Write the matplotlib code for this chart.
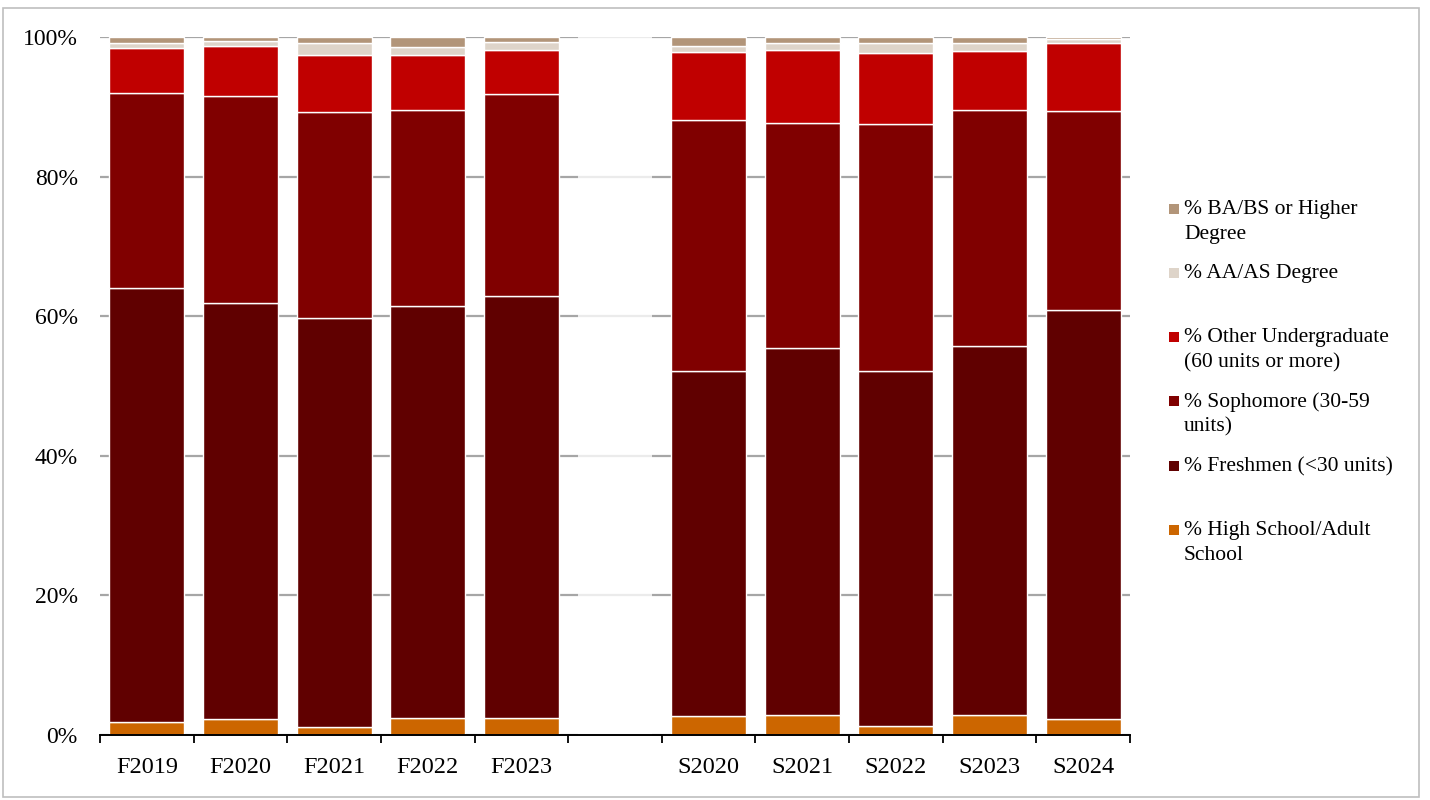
import numpy as np
import matplotlib

matplotlib.use("Agg")
import matplotlib.pyplot as plt
from matplotlib.patches import Rectangle

plt.rcParams["font.family"] = ["Liberation Serif", "DejaVu Serif"]

terms = ["F2019", "F2020", "F2021", "F2022", "F2023",
         "S2020", "S2021", "S2022", "S2023", "S2024"]

# percent of students by standing (bottom -> top)
high_school = [1.9, 2.3, 1.1, 2.4, 2.4, 2.7, 2.9, 1.3, 2.9, 2.3]
freshmen = [62.1, 59.6, 58.6, 59.1, 60.5, 49.4, 52.5, 50.8, 52.8, 58.6]
sophomore = [28.0, 29.6, 29.6, 28.0, 28.9, 36.0, 32.3, 35.4, 33.8, 28.5]
other_ug = [6.4, 7.2, 8.1, 7.9, 6.4, 9.7, 10.4, 10.2, 8.5, 9.8]
aa_degree = [0.8, 0.7, 1.7, 1.2, 1.1, 0.9, 1.0, 1.4, 1.1, 0.5]
ba_degree = [0.8, 0.6, 0.9, 1.4, 0.7, 1.3, 0.9, 0.9, 0.9, 0.3]

series = [
    ("% High School/Adult\nSchool", high_school, "#CC6600"),
    ("% Freshmen (<30 units)", freshmen, "#600000"),
    ("% Sophomore (30-59\nunits)", sophomore, "#800000"),
    ("% Other Undergraduate\n(60 units or more)", other_ug, "#C00000"),
    ("% AA/AS Degree", aa_degree, "#DED4C9"),
    ("% BA/BS or Higher\nDegree", ba_degree, "#B29579"),
]

# fall terms in slots 0-4, empty slot 5, spring terms in 6-10
pos = np.array([0, 1, 2, 3, 4, 6, 7, 8, 9, 10])
gap_slot = 5

fig = plt.figure(figsize=(14.3, 8), dpi=100)
ax = fig.add_axes([100 / 1430, 65 / 800, 1030 / 1430, 698 / 800])

ax.set_axisbelow(True)
ax.yaxis.grid(True, color="#A6A6A6", linewidth=1.6)

bottom = np.zeros(len(terms))
for label, vals, color in series:
    vals = np.array(vals)
    ax.bar(pos, vals, 0.8, bottom=bottom, color=color,
           edgecolor="white", linewidth=1.0, zorder=2)
    bottom += vals

# empty spacer slot (Excel leaves it faintly covering the gridlines)
ax.bar([gap_slot], [100], 0.8, color="white", alpha=0.78, linewidth=0, zorder=2)

ax.set_xlim(-0.5, 10.5)
ax.set_ylim(0, 100)
ax.set_yticks(np.arange(0, 101, 20))
ax.set_yticklabels([f"{v}%" for v in range(0, 101, 20)], fontsize=17)
ax.tick_params(axis="y", length=0, pad=16)

labels = [""] * 11
for p, t in zip(pos, terms):
    labels[p] = t
ax.set_xticks(np.arange(11))
ax.set_xticklabels(labels, fontsize=17.5)
ax.set_xticks(np.arange(-0.5, 11, 1), minor=True)
ax.tick_params(axis="x", which="major", length=0, pad=16)
ax.tick_params(axis="x", which="minor", length=6, width=1.3, direction="out", color="black")

for s in ["left", "right", "top"]:
    ax.spines[s].set_visible(False)
ax.spines["bottom"].set_color("black")
ax.spines["bottom"].set_linewidth(1.4)
ax.spines["bottom"].set_zorder(3)

# legend drawn by hand, top entry first, 64 px apart
leg_y = [209, 273, 337, 401, 466, 530]
for (label, vals, color), y in zip(reversed(series), leg_y):
    fig.patches.append(Rectangle(((1169) / 1430, 1 - (y + 5) / 800), 10 / 1430, 10 / 800,
                                 transform=fig.transFigure, facecolor=color,
                                 edgecolor="none"))
    fig.text(1184 / 1430, 1 - (y - 9) / 800, label, fontsize=15.5,
             va="top", ha="left", linespacing=1.42)

# chart border
fig.patches.append(Rectangle((3 / 1430, 3 / 800), 1416 / 1430, 789 / 800,
                             transform=fig.transFigure, fill=False,
                             edgecolor="#BFBFBF", linewidth=1.2))

fig.savefig("out.png", dpi=100)
